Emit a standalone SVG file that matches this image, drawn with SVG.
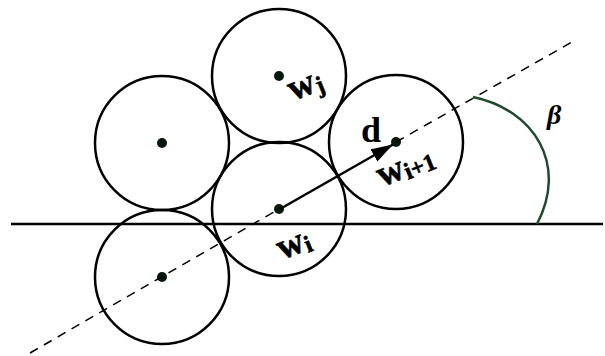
<svg xmlns="http://www.w3.org/2000/svg" width="605" height="356" viewBox="0 0 605 356">
<defs>
<style>
.c{fill:none;stroke:#000;stroke-width:2.5}
.dot{fill:#07180d}
.lbl{font-family:"Liberation Serif","DejaVu Serif",serif;font-weight:bold;fill:#000}
.dash{fill:none;stroke:#000;stroke-width:1.5;stroke-dasharray:9,7}
</style>
<marker id="ah" markerUnits="userSpaceOnUse" markerWidth="24" markerHeight="16" refX="22" refY="7" orient="auto">
<path d="M0,0 L22,7 L0,14 Z" fill="#000"/>
</marker>
</defs>
<rect width="605" height="356" fill="#fff"/>
<line x1="11" y1="224" x2="603" y2="224" stroke="#000" stroke-width="2.5"/>
<g id="n-upper-left"><circle class="c" cx="162" cy="143" r="67"/><circle class="dot" cx="162" cy="143" r="5"/></g>
<g id="n-lower-left"><circle class="c" cx="162" cy="277" r="67"/><circle class="dot" cx="162" cy="277" r="5"/></g>
<g id="n-wj"><circle class="c" cx="279" cy="76" r="67"/><circle class="dot" cx="279" cy="76" r="5"/>
<g transform="translate(293,101) rotate(-22)"><text class="lbl" x="0" y="0" font-size="37" stroke="#000" stroke-width="0.6">w<tspan font-size="24" dy="3">j</tspan></text></g></g>
<g id="n-wi"><circle class="c" cx="279" cy="209" r="67"/><circle class="dot" cx="279" cy="209" r="5"/>
<g transform="translate(282,260) rotate(-22)"><text class="lbl" x="0" y="0" font-size="37" stroke="#000" stroke-width="0.6">w<tspan font-size="24" dy="3">i</tspan></text></g></g>
<g id="n-wi1"><circle class="c" cx="396" cy="142" r="67"/><circle class="dot" cx="396" cy="142" r="5"/>
<g transform="translate(382,187) rotate(-22)"><text class="lbl" x="0" y="0" font-size="37" stroke="#000" stroke-width="0.6">w<tspan font-size="24" dy="3">i+1</tspan></text></g></g>
<g id="connectors">
<line class="dash" x1="30" y1="353" x2="279" y2="209"/>
<line class="dash" x1="396" y1="142" x2="572" y2="42"/>
<line x1="280" y1="209" x2="393" y2="144.5" stroke="#000" stroke-width="2.5" marker-end="url(#ah)"/>
<text class="lbl" x="361" y="142" font-size="36">d</text>
<path d="M473,97 C535,110 568,165 537,224" fill="none" stroke="#1f4a2c" stroke-width="2.5"/>
<text class="lbl" x="547" y="124" font-size="28" font-style="italic">β</text>
</g>
</svg>
